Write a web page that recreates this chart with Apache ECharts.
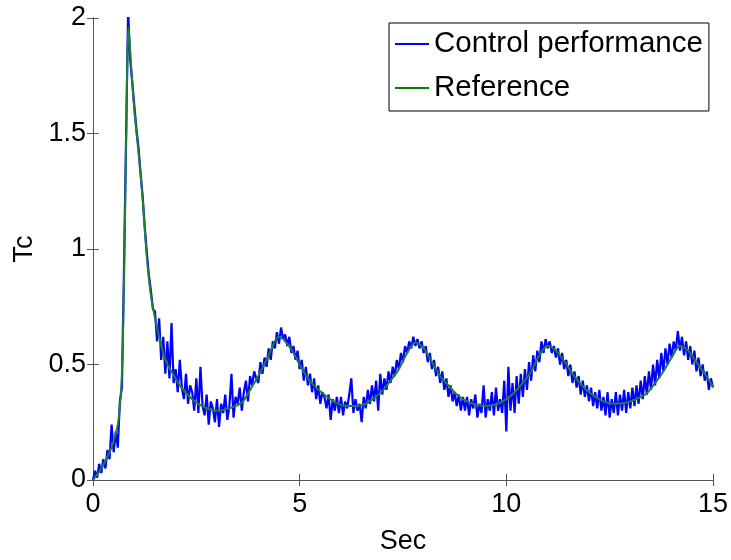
<!DOCTYPE html>
<html>
<head>
<meta charset="utf-8">
<script src="https://cdn.jsdelivr.net/npm/echarts@6/dist/echarts.min.js"></script>
<style>
  html, body { margin: 0; padding: 0; background: #fff; }
  #chart { width: 731px; height: 560px; }
</style>
</head>
<body>
<div id="chart"></div>
<script>
// measured output, one sample every 0.05 s from t = 0
const sampleStart = 0;
const sampleStep = 0.05;
const controlValues = [
  0.00, 0.04, 0.01, 0.07, 0.03, 0.09, 0.05, 0.13, 0.09, 0.24, 0.12, 0.21, 0.14, 0.34, 0.40, 0.92, 1.48, 2.03, 1.82, 1.72,
  1.62, 1.52, 1.44, 1.33, 1.23, 1.10, 0.99, 0.89, 0.82, 0.74, 0.73, 0.60, 0.70, 0.52, 0.62, 0.46, 0.60, 0.44, 0.68, 0.42,
  0.48, 0.38, 0.52, 0.40, 0.35, 0.46, 0.33, 0.41, 0.38, 0.30, 0.44, 0.29, 0.49, 0.32, 0.28, 0.37, 0.24, 0.34, 0.31, 0.25,
  0.35, 0.23, 0.33, 0.29, 0.37, 0.26, 0.32, 0.46, 0.27, 0.36, 0.33, 0.40, 0.30, 0.38, 0.43, 0.34, 0.45, 0.41, 0.47, 0.44,
  0.42, 0.51, 0.46, 0.53, 0.49, 0.57, 0.52, 0.60, 0.57, 0.64, 0.59, 0.66, 0.61, 0.63, 0.58, 0.62, 0.55, 0.58, 0.52, 0.56,
  0.48, 0.52, 0.43, 0.49, 0.41, 0.46, 0.38, 0.44, 0.35, 0.41, 0.33, 0.38, 0.36, 0.31, 0.37, 0.26, 0.35, 0.30, 0.36, 0.29,
  0.36, 0.28, 0.34, 0.31, 0.37, 0.44, 0.29, 0.35, 0.30, 0.33, 0.25, 0.36, 0.31, 0.39, 0.33, 0.41, 0.34, 0.43, 0.30, 0.46,
  0.37, 0.44, 0.39, 0.47, 0.42, 0.49, 0.45, 0.52, 0.48, 0.55, 0.51, 0.58, 0.55, 0.60, 0.57, 0.62, 0.58, 0.61, 0.57, 0.60,
  0.55, 0.58, 0.51, 0.55, 0.48, 0.52, 0.45, 0.49, 0.42, 0.47, 0.39, 0.44, 0.36, 0.41, 0.34, 0.38, 0.32, 0.37, 0.30, 0.36,
  0.30, 0.36, 0.28, 0.35, 0.31, 0.37, 0.27, 0.33, 0.29, 0.41, 0.27, 0.35, 0.30, 0.38, 0.28, 0.40, 0.30, 0.35, 0.29, 0.43,
  0.21, 0.49, 0.30, 0.42, 0.29, 0.45, 0.33, 0.46, 0.36, 0.48, 0.39, 0.51, 0.43, 0.54, 0.47, 0.56, 0.51, 0.60, 0.55, 0.61,
  0.57, 0.60, 0.55, 0.58, 0.53, 0.57, 0.50, 0.55, 0.48, 0.52, 0.45, 0.50, 0.42, 0.47, 0.40, 0.45, 0.37, 0.43, 0.36, 0.41,
  0.34, 0.40, 0.32, 0.38, 0.31, 0.39, 0.30, 0.36, 0.28, 0.38, 0.27, 0.35, 0.29, 0.38, 0.28, 0.37, 0.30, 0.39, 0.29, 0.38,
  0.31, 0.40, 0.32, 0.41, 0.33, 0.43, 0.35, 0.45, 0.37, 0.47, 0.39, 0.50, 0.41, 0.52, 0.44, 0.55, 0.47, 0.57, 0.50, 0.59,
  0.53, 0.60, 0.56, 0.645, 0.56, 0.62, 0.54, 0.60, 0.52, 0.58, 0.50, 0.56, 0.47, 0.53, 0.45, 0.50, 0.43, 0.47, 0.39, 0.44,
  0.40
];

// reference trajectory, read at uneven times
const refTimes = [
  0, 0.2, 0.4, 0.5, 0.6, 0.65, 0.7, 0.75, 0.8, 0.86, 0.92, 1.0, 1.1, 1.2, 1.3, 1.4, 1.5, 1.6, 1.7, 1.8,
  1.9, 2.1, 2.4, 2.7, 3.0, 3.3, 3.6, 3.8, 4.0, 4.2, 4.4, 4.5, 4.6, 4.8, 5.0, 5.2, 5.4, 5.7, 6.0, 6.4,
  6.6, 6.8, 7.0, 7.2, 7.4, 7.6, 7.8, 8.0, 8.2, 8.4, 8.6, 8.8, 9.0, 9.2, 9.5, 9.8, 10.0, 10.2, 10.4, 10.6,
  10.8, 11.0, 11.2, 11.4, 11.6, 11.8, 12.0, 12.3, 12.6, 12.9, 13.2, 13.4, 13.6, 13.8, 14.0, 14.2, 14.4, 14.6, 14.8, 15.0
];
const refValues = [
  0, 0.05, 0.12, 0.17, 0.24, 0.32, 0.46, 0.85, 1.45, 1.96, 1.80, 1.60, 1.42, 1.22, 0.97, 0.80, 0.70, 0.62, 0.55, 0.50,
  0.47, 0.41, 0.35, 0.315, 0.30, 0.31, 0.335, 0.39, 0.45, 0.52, 0.60, 0.62, 0.61, 0.565, 0.50, 0.44, 0.40, 0.355, 0.325, 0.32,
  0.33, 0.355, 0.385, 0.43, 0.48, 0.55, 0.595, 0.57, 0.51, 0.45, 0.41, 0.37, 0.345, 0.33, 0.32, 0.33, 0.35, 0.38, 0.42, 0.47,
  0.54, 0.58, 0.56, 0.515, 0.46, 0.415, 0.38, 0.345, 0.33, 0.335, 0.355, 0.375, 0.42, 0.47, 0.53, 0.58, 0.56, 0.51, 0.46, 0.405
];

const xTicks = { min: 0, max: 15, interval: 5 };
const yTicks = { min: 0, max: 2, interval: 0.5 };

const controlData = controlValues.map((v, i) => [sampleStart + i * sampleStep, v]);
const refData = refTimes.map((t, i) => [t, refValues[i]]);

const font = "Liberation Sans, Arial, Helvetica, sans-serif";
const boxColor = "#555";

const chart = echarts.init(document.getElementById("chart"), null, { renderer: "canvas" });

const sideAxis = {
  axisLine: { show: true, lineStyle: { color: boxColor, width: 1 } },
  axisTick: { show: true, inside: true, length: 6, lineStyle: { color: boxColor } },
  splitLine: { show: false },
};

chart.setOption({
  animation: false,
  backgroundColor: "#fff",
  grid: { left: 93, right: 18, top: 18, bottom: 77 },
  legend: {
    left: 389,
    top: 23,
    orient: "vertical",
    padding: [6, 6, 8, 6],
    itemGap: 14,
    itemWidth: 34,
    itemHeight: 2,
    icon: "rect",
    backgroundColor: "#fff",
    borderColor: "#000",
    borderWidth: 1,
    textStyle: { fontFamily: font, fontSize: 29.5, color: "#000", lineHeight: 30 },
    data: ["Control performance", "Reference"],
  },
  xAxis: [
    {
      type: "value",
      ...xTicks,
      name: "Sec",
      nameLocation: "middle",
      nameGap: 48,
      nameTextStyle: { fontFamily: font, fontSize: 27, color: "#000" },
      axisLabel: { fontFamily: font, fontSize: 27, color: "#000", margin: 11 },
      ...sideAxis,
    },
    {
      type: "value",
      position: "top",
      ...xTicks,
      axisLabel: { show: false },
      ...sideAxis,
    },
  ],
  yAxis: [
    {
      type: "value",
      ...yTicks,
      name: "Tc",
      nameLocation: "middle",
      nameGap: 54,
      nameTextStyle: { fontFamily: font, fontSize: 27, color: "#000" },
      axisLabel: { fontFamily: font, fontSize: 27, color: "#000", margin: 7 },
      ...sideAxis,
    },
    {
      type: "value",
      position: "right",
      ...yTicks,
      axisLabel: { show: false },
      ...sideAxis,
    },
  ],
  series: [
    {
      name: "Control performance",
      type: "line",
      data: controlData,
      symbol: "none",
      color: "#0000ff",
      lineStyle: { color: "#0000ff", width: 2.2 },
    },
    {
      name: "Reference",
      type: "line",
      data: refData,
      symbol: "none",
      smooth: 0.3,
      color: "#008000",
      lineStyle: { color: "#1f8030", width: 2 },
    },
  ],
});
</script>
</body>
</html>
